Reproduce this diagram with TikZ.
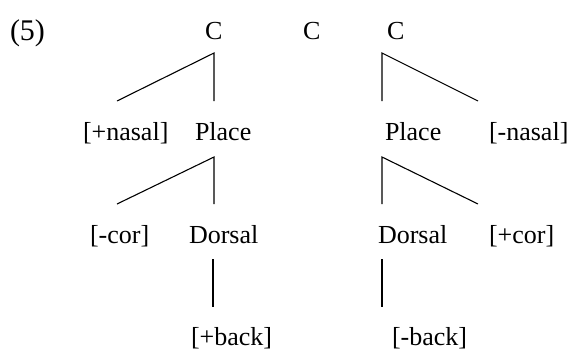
\documentclass[tikz,border=0pt]{standalone}
\usepackage{fontspec}
\setmainfont{Liberation Serif}
\begin{document}
\begin{tikzpicture}[x=1bp,y=-1bp,
  lbl/.style={anchor=base west,inner sep=0pt,outer sep=0pt,font=\fontsize{26bp}{30bp}\selectfont},
  num/.style={anchor=base west,inner sep=0pt,outer sep=0pt,font=\fontsize{30bp}{34bp}\selectfont},
  branch/.style={line width=1.1pt,line cap=butt}]
\useasboundingbox (0,0) rectangle (574,350);
% labels
\node[num] (ex) at (10,40) {(5)};
\node[lbl] (C1) at (205,39) {C};
\node[lbl] (C2) at (303,39) {C};
\node[lbl] (C3) at (387,39) {C};
\node[lbl] (nasL) at (83,140) {[+nasal]};
\node[lbl] (plL) at (195,140) {Place};
\node[lbl] (plR) at (385,140) {Place};
\node[lbl] (nasR) at (489,140) {[-nasal]};
\node[lbl] (corL) at (90,243) {[-cor]};
\node[lbl] (dorL) at (189,243) {Dorsal};
\node[lbl] (dorR) at (378,243) {Dorsal};
\node[lbl] (corR) at (489,243) {[+cor]};
\node[lbl] (bkL) at (191,345) {[+back]};
\node[lbl] (bkR) at (392,345) {[-back]};
% branch points
\coordinate (C1t) at (214,53);
\coordinate (C1l) at (117,101);
\coordinate (C1v) at (214,101);
\coordinate (C3t) at (382,53);
\coordinate (C3r) at (478,101);
\coordinate (C3v) at (382,101);
\coordinate (plLt) at (214,157);
\coordinate (plLl) at (117,204);
\coordinate (plLv) at (214,204);
\coordinate (plRt) at (382,157);
\coordinate (plRr) at (478,204);
\coordinate (plRv) at (382,204);
\coordinate (dorLt) at (213,259);
\coordinate (dorLv) at (213,307);
\coordinate (dorRt) at (382,259);
\coordinate (dorRv) at (382,307);
% branches
\draw[branch] (C1l) -- (C1t) -- (C1v);
\draw[branch] (C3v) -- (C3t) -- (C3r);
\draw[branch] (plLl) -- (plLt) -- (plLv);
\draw[branch] (plRv) -- (plRt) -- (plRr);
\draw[branch] (dorLt) -- (dorLv);
\draw[branch] (dorRt) -- (dorRv);
\end{tikzpicture}
\end{document}
